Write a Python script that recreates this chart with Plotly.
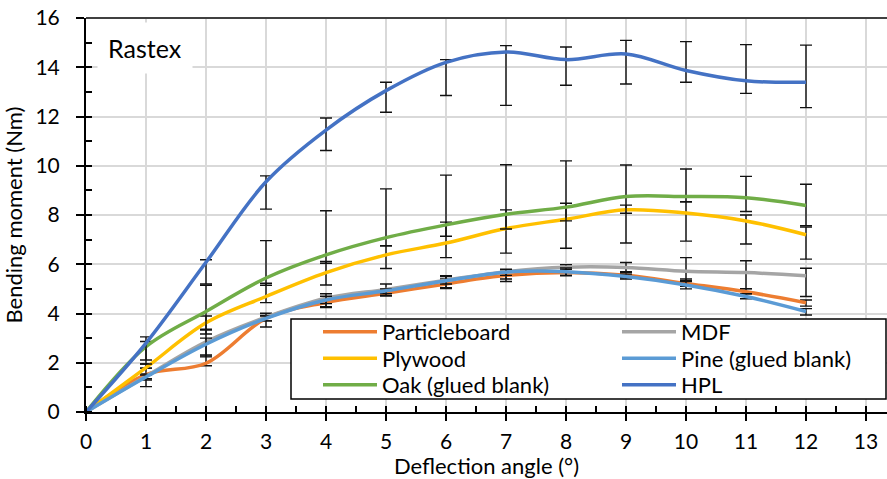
import plotly.graph_objects as go

# ---- data ----
angle = [0, 1, 2, 3, 4, 5, 6, 7, 8, 9, 10, 11, 12]

particleboard = [0, 1.52, 1.98, 3.80, 4.45, 4.82, 5.20, 5.55, 5.66, 5.55, 5.22, 4.88, 4.44]
mdf           = [0, 1.45, 2.85, 3.85, 4.62, 4.98, 5.35, 5.70, 5.88, 5.87, 5.72, 5.66, 5.53]
plywood       = [0, 1.80, 3.62, 4.69, 5.66, 6.38, 6.86, 7.45, 7.83, 8.21, 8.08, 7.76, 7.20]
pine          = [0, 1.42, 2.75, 3.80, 4.55, 4.92, 5.33, 5.68, 5.70, 5.50, 5.16, 4.69, 4.08]
oak           = [0, 2.65, 4.08, 5.44, 6.38, 7.08, 7.60, 8.03, 8.32, 8.75, 8.75, 8.70, 8.39]
hpl           = [0, 2.80, 6.08, 9.35, 11.45, 13.05, 14.20, 14.62, 14.31, 14.54, 13.87, 13.45, 13.39]

# error bar ends (upper / lower values)
particleboard_hi = [0, 1.78, 2.32, 3.92, 4.60, 4.90, 5.40, 5.70, 5.80, 5.70, 5.40, 5.00, 4.55]
particleboard_lo = [0, 1.03, 1.88, 3.70, 4.24, 4.72, 5.05, 5.40, 5.55, 5.45, 5.10, 4.80, 4.30]
mdf_hi           = [0, 1.55, 3.36, 4.01, 4.80, 5.20, 5.53, 5.77, 5.98, 6.07, 6.27, 6.14, 5.84]
mdf_lo           = [0, 1.35, 2.28, 3.45, 4.28, 4.72, 5.01, 5.30, 5.53, 5.66, 5.33, 5.01, 4.69]
plywood_hi       = [0, 1.95, 3.90, 5.23, 6.11, 6.75, 7.71, 8.21, 8.48, 8.40, 8.54, 8.00, 7.51]
plywood_lo       = [0, 1.78, 3.17, 4.44, 5.16, 5.83, 6.27, 6.45, 6.65, 6.86, 6.94, 6.82, 6.21]
pine_hi          = [0, 1.50, 3.00, 3.90, 4.70, 5.00, 5.50, 5.80, 5.85, 5.60, 5.30, 4.80, 4.20]
pine_lo          = [0, 1.30, 2.24, 3.70, 4.40, 4.80, 5.20, 5.55, 5.55, 5.40, 5.00, 4.60, 3.94]
oak_hi           = [0, 2.86, 5.15, 6.96, 8.17, 9.06, 9.62, 10.04, 10.20, 10.03, 9.87, 9.57, 9.25]
oak_lo           = [0, 1.95, 3.33, 5.15, 6.04, 6.75, 7.14, 7.43, 7.76, 8.07, 8.54, 8.14, 7.57]
hpl_hi           = [0, 3.05, 6.18, 9.59, 11.94, 13.39, 14.31, 14.88, 14.82, 15.09, 15.04, 14.92, 14.90]
hpl_lo           = [0, 2.11, 5.20, 8.24, 10.62, 12.17, 12.85, 12.45, 13.27, 13.32, 13.39, 12.94, 12.36]

x_ticks = list(range(0, 14))
y_ticks = list(range(0, 17, 2))

# name, values, upper, lower, colour, legend column, legend row
series = [
    ("Particleboard", particleboard, particleboard_hi, particleboard_lo, "#ED7D31", 0, 0),
    ("MDF", mdf, mdf_hi, mdf_lo, "#A5A5A5", 1, 0),
    ("Plywood", plywood, plywood_hi, plywood_lo, "#FFC000", 0, 1),
    ("Pine (glued blank)", pine, pine_hi, pine_lo, "#5B9BD5", 1, 1),
    ("Oak (glued blank)", oak, oak_hi, oak_lo, "#70AD47", 0, 2),
    ("HPL", hpl, hpl_hi, hpl_lo, "#4472C4", 1, 2),
]

FONT = "Lato"
W, H = 887, 479
L, R, T, B = 86, 0, 18, 67
pw, ph = W - L - R, H - T - B
xmax = pw / 60.0

def px(xp):
    return (xp - L) / pw

def py(yp):
    return (H - B - yp) / ph

fig = go.Figure()
legends = {}
col_x = [318, 617]
row_top = [311, 337.5, 364]
for i, (name, vals, hi, lo, col, lc, lr) in enumerate(series):
    key = "legend" if i == 0 else "legend%d" % (i + 1)
    fig.add_trace(go.Scatter(
        x=angle, y=vals, name=name, mode="lines", showlegend=True,
        line=dict(color=col, width=3.5, shape="spline", smoothing=1.0),
        error_y=dict(type="data", symmetric=False,
                     array=[h - v for h, v in zip(hi, vals)],
                     arrayminus=[v - l for v, l in zip(vals, lo)],
                     color="#111111", thickness=1.4, width=6),
        legend=key,
    ))
    legends[key] = dict(
        x=px(col_x[lc]), y=py(row_top[lr]), xanchor="left", yanchor="top",
        bgcolor="rgba(0,0,0,0)", borderwidth=0, itemwidth=54,
        font=dict(family=FONT, size=22, color="black"),
    )

tickfont = dict(family=FONT, size=21, color="#000000")

fig.update_layout(
    width=W, height=H,
    showlegend=True,
    margin=dict(l=L, r=R, t=T, b=B),
    paper_bgcolor="white", plot_bgcolor="white",
    font=dict(family=FONT, size=21, color="#000000"),
    xaxis=dict(
        range=[0, xmax], tickvals=x_ticks, ticks="outside", ticklen=7, tickwidth=2,
        tickcolor="black", showline=True, linecolor="black", linewidth=2,
        showgrid=True, gridcolor="#D9D9D9", gridwidth=2, zeroline=False,
        tickfont=tickfont, ticklabelstandoff=3,
        minor=dict(dtick=0.5, ticks="inside", ticklen=6, tickwidth=1.5,
                   tickcolor="black", showgrid=False),
        title=dict(text="Deflection angle (°)", font=dict(family=FONT, size=22),
                   standoff=2),
    ),
    xaxis2=dict(
        range=[0, xmax], overlaying="x", anchor="y", side="bottom",
        tickvals=x_ticks, ticks="inside", ticklen=7, tickwidth=2, tickcolor="black",
        showticklabels=False, showgrid=False, showline=False, zeroline=False,
    ),
    yaxis=dict(
        range=[0, 16], tickvals=y_ticks, ticks="outside", ticklen=8, tickwidth=2,
        tickcolor="black", showline=True, linecolor="black", linewidth=2,
        showgrid=True, gridcolor="#D9D9D9", gridwidth=2, zeroline=False,
        tickfont=tickfont, ticklabelstandoff=12,
        minor=dict(dtick=1, ticks="inside", ticklen=6, tickwidth=1.5,
                   tickcolor="black", showgrid=False),
        title=dict(text="Bending moment (Nm)", font=dict(family=FONT, size=22),
                   standoff=7),
    ),
    yaxis2=dict(
        range=[0, 16], overlaying="y", anchor="x", side="left",
        tickvals=y_ticks, ticks="inside", ticklen=7, tickwidth=2, tickcolor="black",
        showticklabels=False, showgrid=False, showline=False, zeroline=False,
    ),
    shapes=[
        dict(type="rect", xref="paper", yref="paper",
             x0=px(291), x1=px(886), y0=py(399), y1=py(319),
             line=dict(color="black", width=1.5), fillcolor="white", layer="above"),
        dict(type="line", xref="paper", yref="paper",
             x0=0, x1=1, y0=1, y1=1, line=dict(color="#404040", width=2)),
    ],
    annotations=[
        dict(text="Rastex", xref="paper", yref="paper", x=px(145), y=py(48),
             xanchor="center", yanchor="middle", showarrow=False,
             font=dict(family=FONT, size=25, color="black"),
             bgcolor="white", borderpad=10),
    ],
    **legends,
)

fig.write_html("out.html")
